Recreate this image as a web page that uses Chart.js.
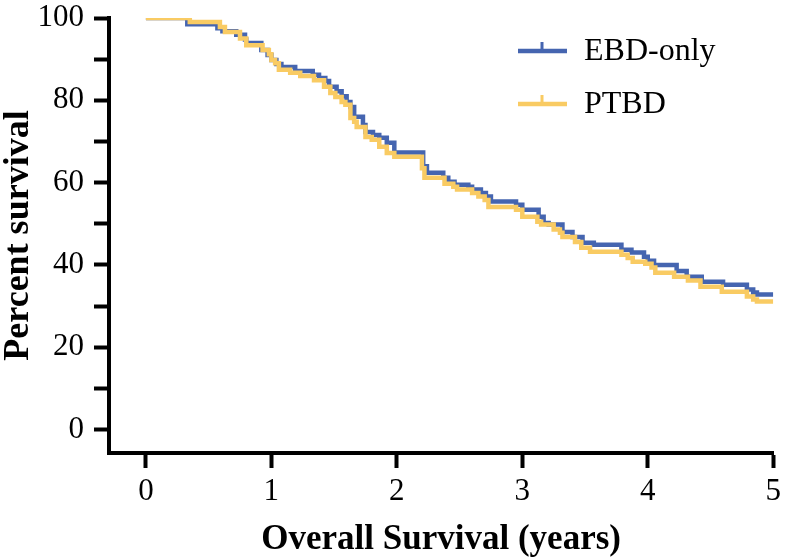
<!DOCTYPE html>
<html>
<head>
<meta charset="utf-8">
<script src="https://cdn.jsdelivr.net/npm/chart.js@4/dist/chart.umd.min.js"></script>
<style>
  html, body { margin: 0; padding: 0; background: #fff; }
  #wrap { width: 786px; height: 557px; }
</style>
</head>
<body>
<div id="wrap"><canvas id="kmChart"></canvas></div>
<script>
// Kaplan-Meier estimates (time in years, percent survival)
const seriesNames = ["EBD-only", "PTBD"];

const ebdTimes = [0, 0.33, 0.57, 0.61, 0.72, 0.79, 0.8, 0.92, 0.97, 1.0, 1.04, 1.08, 1.19, 1.33, 1.38, 1.43, 1.46,
  1.52, 1.56, 1.6, 1.63, 1.66, 1.73, 1.75, 1.81, 1.86, 1.92, 1.98, 2.21, 2.24, 2.37, 2.41, 2.46, 2.57, 2.6, 2.67,
  2.71, 2.75, 2.95, 3.0, 3.13, 3.17, 3.21, 3.32, 3.4, 3.48, 3.57, 3.79, 3.87, 3.97, 4.0, 4.05, 4.23, 4.31, 4.43,
  4.6, 4.79, 4.84, 4.87, 5.0];
const ebdSurvival = [100, 98.5, 97.5, 96.8, 95.9, 94.8, 93.9, 92.2, 91.0, 89.8, 88.8, 88.1, 87.1, 86.2, 85.4, 84.7, 83.3,
  82.2, 81.0, 79.6, 78.4, 76.0, 74.0, 72.3, 71.6, 70.9, 69.7, 67.3, 64.0, 62.4, 61.2, 60.2, 59.5, 59.0, 58.3, 57.5,
  56.6, 55.4, 54.6, 53.4, 51.7, 50.2, 49.8, 48.0, 46.8, 45.4, 44.9, 43.7, 43.0, 42.0, 41.0, 40.0, 38.5, 37.1, 35.9,
  35.2, 34.0, 33.3, 32.8, 32.8];

const ptbdTimes = [0, 0.35, 0.59, 0.63, 0.75, 0.8, 0.93, 0.98, 1.0, 1.03, 1.06, 1.15, 1.23, 1.34, 1.42, 1.47, 1.51,
  1.56, 1.59, 1.63, 1.66, 1.68, 1.75, 1.8, 1.86, 1.92, 1.98, 2.2, 2.22, 2.38, 2.45, 2.48, 2.6, 2.65, 2.7, 2.73,
  2.95, 3.0, 3.12, 3.15, 3.25, 3.3, 3.32, 3.42, 3.47, 3.54, 3.79, 3.84, 3.88, 3.98, 4.03, 4.06, 4.21, 4.32, 4.42,
  4.59, 4.79, 4.84, 4.87, 5.0];
const ptbdSurvival = [100, 99.0, 97.8, 96.6, 95.0, 93.4, 92.2, 91.2, 89.8, 89.0, 87.4, 86.7, 85.9, 84.9, 83.3, 81.8, 80.8,
  79.6, 78.9, 75.7, 74.8, 73.5, 71.1, 70.4, 68.7, 67.2, 66.3, 63.5, 61.2, 59.7, 59.0, 58.3, 57.5, 56.6, 55.8, 54.1,
  53.4, 51.7, 50.5, 49.8, 48.6, 47.8, 46.8, 45.6, 44.2, 43.2, 42.5, 41.7, 40.8, 40.3, 39.4, 38.1, 37.1, 36.2, 34.7,
  33.5, 32.3, 31.6, 31.1, 31.1];

const xTickValues = [0, 1, 2, 3, 4, 5];
const yTickValues = [0, 10, 20, 30, 40, 50, 60, 70, 80, 90, 100];
const yLabelStep = 20;

const blue = "#4565b0";
const yellow = "#f9cb63";
const serif = "'Liberation Serif', 'Times New Roman', serif";

function toPoints(times, values) {
  return times.map((t, i) => ({ x: t, y: values[i] }));
}

// legend drawn in the upper right, a line with a small censor tick
const kmLegend = {
  id: "kmLegend",
  afterDraw(chart) {
    const ctx = chart.ctx;
    const rows = [
      { label: seriesNames[0], color: blue, y: 51 },
      { label: seriesNames[1], color: yellow, y: 104 },
    ];
    ctx.save();
    rows.forEach((r) => {
      ctx.strokeStyle = r.color;
      ctx.lineWidth = 4.5;
      ctx.beginPath();
      ctx.moveTo(518, r.y);
      ctx.lineTo(567, r.y);
      ctx.stroke();
      ctx.lineWidth = 3;
      ctx.beginPath();
      ctx.moveTo(542, r.y);
      ctx.lineTo(542, r.y - 9);
      ctx.stroke();
      ctx.fillStyle = "#000";
      ctx.font = "32px " + serif;
      ctx.textBaseline = "middle";
      ctx.fillText(r.label, 584, r.y + 1);
    });
    ctx.restore();
  },
};

document.addEventListener("DOMContentLoaded", function () {
  const ctx = document.getElementById("kmChart");
  new Chart(ctx, {
    type: "line",
    data: {
      datasets: [
        {
          label: seriesNames[0],
          data: toPoints(ebdTimes, ebdSurvival),
          borderColor: blue,
          backgroundColor: blue,
          borderWidth: 4.5,
          stepped: "before",
          pointRadius: 0,
          fill: false,
          order: 1,
        },
        {
          label: seriesNames[1],
          data: toPoints(ptbdTimes, ptbdSurvival),
          borderColor: yellow,
          backgroundColor: yellow,
          borderWidth: 4.5,
          stepped: "before",
          pointRadius: 0,
          fill: false,
          order: 0,
        },
      ],
    },
    options: {
      responsive: true,
      maintainAspectRatio: false,
      animation: false,
      layout: {
        padding: { top: 18, right: 10, left: 0, bottom: 0 },
      },
      plugins: {
        legend: { display: false },
        tooltip: { enabled: false },
      },
      scales: {
        x: {
          type: "linear",
          min: -0.294,
          max: 5,
          afterBuildTicks: function (scale) {
            scale.ticks = xTickValues.map((v) => ({ value: v }));
          },
          afterFit: function (scale) {
            scale.height = 104;
          },
          ticks: {
            color: "#000",
            padding: 5,
            autoSkip: false,
            maxRotation: 0,
            font: { family: serif, size: 31 },
          },
          grid: {
            drawOnChartArea: false,
            tickLength: 15,
            tickWidth: 4,
            tickColor: "#000",
          },
          border: { display: true, color: "#000", width: 4 },
          title: {
            display: true,
            text: "Overall Survival (years)",
            color: "#000",
            font: { family: serif, size: 35, weight: "bold", lineHeight: 1 },
            padding: { top: 0, bottom: 0 },
          },
        },
        y: {
          type: "linear",
          min: -5.7,
          max: 100,
          afterBuildTicks: function (scale) {
            scale.ticks = yTickValues.map((v) => ({ value: v }));
          },
          afterFit: function (scale) {
            scale.width = 109;
          },
          ticks: {
            color: "#000",
            padding: 10,
            autoSkip: false,
            font: { family: serif, size: 31, lineHeight: 0.4 },
            callback: function (value) {
              return value % yLabelStep === 0 ? value : "";
            },
          },
          grid: {
            drawOnChartArea: false,
            tickLength: 15,
            tickWidth: 4,
            tickColor: "#000",
          },
          border: { display: true, color: "#000", width: 4 },
          title: {
            display: true,
            text: "Percent survival",
            color: "#000",
            font: { family: serif, size: 36, weight: "bold", lineHeight: 1 },
            padding: { top: 1, bottom: 0 },
          },
        },
      },
    },
    plugins: [kmLegend],
  });
});
</script>
</body>
</html>
